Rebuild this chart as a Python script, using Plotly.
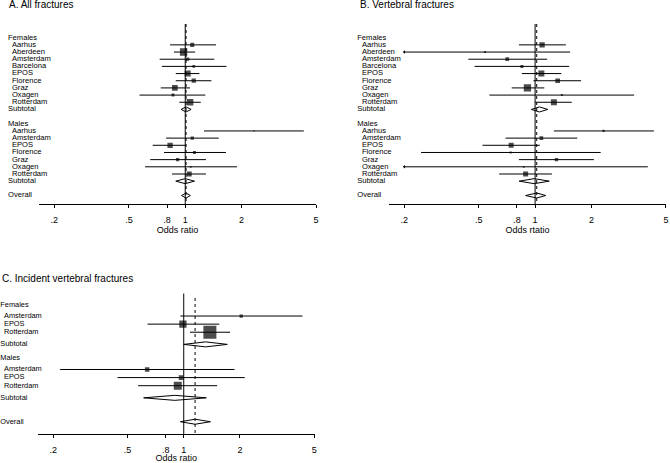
import math
import plotly.graph_objects as go

W, H = 670, 463

# ---------------- data ----------------
female_sites_ab = ["Aarhus", "Aberdeen", "Amsterdam", "Barcelona", "EPOS",
                   "Florence", "Graz", "Oxagen", "Rotterdam"]
male_sites_ab = ["Aarhus", "Amsterdam", "EPOS", "Florence", "Graz", "Oxagen", "Rotterdam"]

# A. All fractures
a_f_or = [1.09, 0.98, 1.03, 1.11, 1.03, 1.11, 0.88, 0.86, 1.06]
a_f_lo = [0.83, 0.87, 0.73, 0.75, 0.89, 0.89, 0.74, 0.57, 0.93]
a_f_hi = [1.46, 1.13, 1.43, 1.66, 1.19, 1.38, 1.06, 1.28, 1.21]
a_f_w = [4.5, 15.0, 3.0, 2.0, 10.0, 5.0, 9.0, 2.5, 12.5]
a_m_or = [2.33, 1.09, 0.83, 1.12, 0.91, 1.07, 1.05]
a_m_lo = [1.26, 0.79, 0.67, 0.77, 0.65, 0.61, 0.85]
a_m_hi = [4.30, 1.51, 1.01, 1.65, 1.29, 1.89, 1.29]
a_m_w = [0.5, 3.0, 7.8, 2.5, 3.0, 0.8, 6.9]
a_sub_f = [1.01, 0.95, 1.075]
a_sub_m = [1.00, 0.89, 1.12]
a_overall = [1.01, 0.955, 1.065]

# B. Vertebral fractures
b_f_or = [1.09, 0.54, 0.71, 0.85, 1.08, 1.32, 0.91, 1.39, 1.26]
b_f_lo = [0.82, 0.20, 0.44, 0.475, 0.85, 0.98, 0.75, 0.57, 1.00]
b_f_hi = [1.46, 1.54, 1.16, 1.52, 1.38, 1.76, 1.12, 3.38, 1.57]
b_f_w = [7.8, 1.1, 3.8, 2.5, 10.0, 6.1, 14.8, 1.1, 10.0]
b_m_or = [2.32, 1.08, 0.745, 0.74, 1.30, 0.87, 0.89]
b_m_lo = [1.26, 0.695, 0.524, 0.246, 0.82, 0.20, 0.643]
b_m_hi = [4.31, 1.68, 1.06, 2.24, 2.06, 4.00, 1.23]
b_m_w = [1.5, 3.8, 6.9, 1.1, 3.0, 0.8, 6.9]
b_sub_f = [1.055, 0.955, 1.168]
b_sub_m = [0.99, 0.822, 1.19]
b_overall = [1.02, 0.89, 1.14]

# C. Incident vertebral fractures
female_sites_c = ["Amsterdam", "EPOS", "Rotterdam"]
male_sites_c = ["Amsterdam", "EPOS", "Rotterdam"]
c_f_or = [2.03, 0.99, 1.38]
c_f_lo = [0.96, 0.64, 1.08]
c_f_hi = [4.32, 1.55, 1.77]
c_f_w = [3.0, 14.8, 46.8]
c_m_or = [0.637, 0.968, 0.929]
c_m_lo = [0.218, 0.442, 0.57]
c_m_hi = [1.87, 2.12, 1.51]
c_m_w = [5.6, 6.1, 17.7]
c_sub_f = [1.31, 1.0, 1.71]
c_sub_m = [0.895, 0.61, 1.32]
c_overall = [1.15, 0.96, 1.39]

tick_vals = [0.2, 0.5, 0.8, 1, 2, 5]
tick_text = [".2", ".5", ".8", "1", "2", "5"]

FONT = "Liberation Sans, Arial, Helvetica, sans-serif"
INK = "#000000"


def build_rows(f_sites, m_sites, row_pos=None):
    items = [("Females", "head")]
    items += [(s, "f") for s in f_sites]
    items += [("Subtotal", "subf"), ("", "blank"), ("Males", "head")]
    items += [(s, "m") for s in m_sites]
    items += [("Subtotal", "subm"), ("", "blank"), ("Overall", "all")]
    if row_pos is None:
        row_pos = list(range(len(items)))
    return items, row_pos


fig = go.Figure()
layout_axes = {}


def add_panel(i, f_sites, m_sites, f_or, f_lo, f_hi, f_w, m_or, m_lo, m_hi, m_w,
              sub_f, sub_m, overall, geo, row_pos=None, xtitle="Odds ratio"):
    items, rows = build_rows(f_sites, m_sites, row_pos)
    xa = "x" if i == 1 else f"x{i}"
    ya = "y" if i == 1 else f"y{i}"
    lx = f"x{i + 3}"
    ly = f"y{i + 3}"

    y_top = geo["row_top"]
    y_bot = geo["row_bot"]

    f_rows = [rows[k] for k, it in enumerate(items) if it[1] == "f"]
    m_rows = [rows[k] for k, it in enumerate(items) if it[1] == "m"]
    subf_row = [rows[k] for k, it in enumerate(items) if it[1] == "subf"][0]
    subm_row = [rows[k] for k, it in enumerate(items) if it[1] == "subm"][0]
    all_row = [rows[k] for k, it in enumerate(items) if it[1] == "all"][0]

    fig.add_trace(go.Scatter(x=[1, 1], y=[y_top, y_bot], mode="lines",
                             line=dict(color=INK, width=1), xaxis=xa, yaxis=ya,
                             showlegend=False, hoverinfo="skip"))
    fig.add_trace(go.Scatter(x=[overall[0], overall[0]], y=[geo.get("dot_top", y_top), y_bot],
                             mode="lines", line=dict(color=INK, width=1, dash="dot"),
                             xaxis=xa, yaxis=ya, showlegend=False, hoverinfo="skip"))

    cx, cy = [], []
    arrows_x, arrows_y = [], []
    for ors, lo, hi, rr in ((f_or, f_lo, f_hi, f_rows), (m_or, m_lo, m_hi, m_rows)):
        for o, l, h, r in zip(ors, lo, hi, rr):
            cx += [l, h, None]
            cy += [r, r, None]
            if l <= 0.205:
                arrows_x.append(l)
                arrows_y.append(r)
    fig.add_trace(go.Scatter(x=cx, y=cy, mode="lines", line=dict(color=INK, width=1),
                             xaxis=xa, yaxis=ya, showlegend=False, hoverinfo="skip"))
    if arrows_x:
        fig.add_trace(go.Scatter(x=arrows_x, y=arrows_y, mode="markers",
                                 marker=dict(symbol="triangle-left", size=3, color=INK,
                                             line=dict(width=0)),
                                 xaxis=xa, yaxis=ya, showlegend=False, hoverinfo="skip"))

    sx = f_or + m_or
    sy = f_rows + m_rows
    ss = [geo["msize"] * math.sqrt(w) for w in (f_w + m_w)]
    fig.add_trace(go.Scatter(x=sx, y=sy, mode="markers",
                             marker=dict(symbol="square", size=ss, color="black",
                                         line=dict(width=0)),
                             xaxis=xa, yaxis=ya, showlegend=False, hoverinfo="skip"))

    dx, dy = [], []
    hh = geo["dh"]
    for (e, l, h), r in ((sub_f, subf_row), (sub_m, subm_row), (overall, all_row)):
        dx += [l, e, h, e, l, None]
        dy += [r, r - hh, r, r + hh, r, None]
    fig.add_trace(go.Scatter(x=dx, y=dy, mode="lines", line=dict(color=INK, width=1),
                             xaxis=xa, yaxis=ya, showlegend=False, hoverinfo="skip"))

    lab_x, lab_y, lab_t = [], [], []
    for (txt, kind), r in zip(items, rows):
        if kind == "blank":
            continue
        lab_x.append(geo["head_x"] if kind in ("head", "subf", "subm", "all") else geo["site_x"])
        lab_y.append(r)
        lab_t.append(txt)
    fig.add_trace(go.Scatter(x=lab_x, y=lab_y, text=lab_t, mode="text",
                             textposition="middle right",
                             textfont=dict(family=FONT, size=geo["lab_font"], color=INK),
                             xaxis=lx, yaxis=ly, showlegend=False, hoverinfo="skip",
                             cliponaxis=False))

    x0, x1 = geo["x0"], geo["x1"]
    one_px = geo["one_px"]
    dec = geo["dec"]
    lo_end = (x0 - one_px) / dec
    hi_end = (x1 - one_px) / dec
    ydom = [1 - geo["bot_px"] / H, 1 - geo["top_px"] / H]

    layout_axes["xaxis" if i == 1 else f"xaxis{i}"] = dict(
        type="log", domain=[x0 / W, x1 / W], range=[lo_end, hi_end], anchor=ya,
        showline=True, linecolor=INK, linewidth=1, ticks="outside", ticklen=3,
        tickcolor=INK, tickwidth=1, tickvals=tick_vals, ticktext=tick_text,
        tickfont=dict(family=FONT, size=9, color=INK), showgrid=False, zeroline=False,
        ticklabelstandoff=4,
        title=dict(text=xtitle, font=dict(family=FONT, size=9, color=INK), standoff=1),
    )
    layout_axes["yaxis" if i == 1 else f"yaxis{i}"] = dict(
        domain=ydom, range=[y_bot, y_top], anchor=xa, visible=False)
    layout_axes[f"xaxis{i + 3}"] = dict(
        domain=[geo["pl"] / W, (geo["pl"] + 330) / W], range=[geo["pl"], geo["pl"] + 330],
        anchor=ly, visible=False)
    layout_axes[f"yaxis{i + 3}"] = dict(
        domain=ydom, range=[y_bot, y_top], anchor=lx, visible=False)


unit_ab = 7.173
geoA = dict(x0=39, x1=317.3, one_px=185.8, dec=187.8, top_px=24, bot_px=204,
            row_top=(24 - 37.7) / unit_ab, row_bot=(204 - 37.7) / unit_ab,
            msize=1.9, dh=0.35, head_x=8, site_x=12, pl=0, lab_font=7.6)
geoB = dict(x0=390, x1=668.3, one_px=536.7, dec=187.8, top_px=24, bot_px=204,
            row_top=(24 - 37.7) / unit_ab, row_bot=(204 - 37.7) / unit_ab,
            msize=1.9, dh=0.35, head_x=358.3, site_x=363, pl=335, lab_font=7.6)
unit_c = 8.1
geoC = dict(x0=37.7, x1=315.8, one_px=184.3, dec=187.4, top_px=293.3, bot_px=434,
            row_top=(293.3 - 305.5) / unit_c, row_bot=(434 - 305.5) / unit_c,
            dot_top=(298 - 305.5) / unit_c,
            msize=1.9, dh=0.31, head_x=0.3, site_x=4, pl=0, lab_font=7.4)
c_rows = [0, 1.3, 2.3, 3.3, 4.8, 5.7, 6.55, 7.9, 8.9, 9.9, 11.4, 12.9, 14.35]

add_panel(1, female_sites_ab, male_sites_ab, a_f_or, a_f_lo, a_f_hi, a_f_w,
          a_m_or, a_m_lo, a_m_hi, a_m_w, a_sub_f, a_sub_m, a_overall, geoA)
add_panel(2, female_sites_ab, male_sites_ab, b_f_or, b_f_lo, b_f_hi, b_f_w,
          b_m_or, b_m_lo, b_m_hi, b_m_w, b_sub_f, b_sub_m, b_overall, geoB,
          xtitle="Odds rtatio")
add_panel(3, female_sites_c, male_sites_c, c_f_or, c_f_lo, c_f_hi, c_f_w,
          c_m_or, c_m_lo, c_m_hi, c_m_w, c_sub_f, c_sub_m, c_overall, geoC, row_pos=c_rows)

titles = [("A. All fractures", 6.7, 5), ("B. Vertebral fractures", 359.3, 5),
          ("C. Incident vertebral fractures", 0.3, 278)]
annotations = [dict(text=t, x=x / W, y=1 - y / H, xref="paper", yref="paper",
                    xanchor="left", yanchor="middle", showarrow=False,
                    font=dict(family=FONT, size=10, color=INK))
               for t, x, y in titles]

fig.update_layout(width=W, height=H, margin=dict(l=0, r=0, t=0, b=0),
                  paper_bgcolor="white", plot_bgcolor="rgba(0,0,0,0)",
                  showlegend=False, annotations=annotations, **layout_axes)

fig.write_html("out.html", config={"displayModeBar": False},
               post_script="document.body.style.margin='0px';")
